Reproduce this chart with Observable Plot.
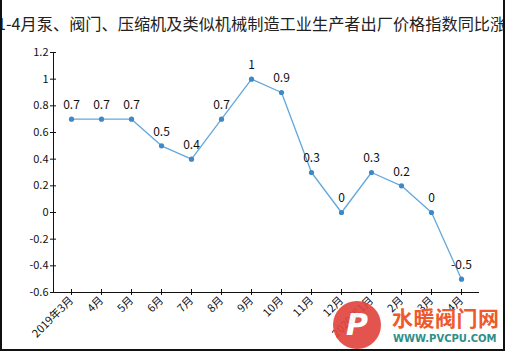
<!DOCTYPE html>
<html>
<head>
<meta charset="utf-8">
<script src="https://cdn.jsdelivr.net/npm/d3@7"></script>
<script src="https://cdn.jsdelivr.net/npm/@observablehq/plot@0.6"></script>
<style>
  html, body { margin: 0; padding: 0; background: #fff; }
  #wrap { position: relative; width: 508px; height: 355px; overflow: hidden; background: #fff;
          font-family: "Noto Sans CJK SC", "Noto Sans", sans-serif; }
  #chart { position: absolute; left: 0; top: 0; }
  #tbox { position: absolute; left: 0; top: 14px; width: 503px; height: 20px; overflow: hidden; }
  #title { position: absolute; left: -3px; top: 0; white-space: nowrap; font-size: 16.2px; line-height: 18px; color: #222; }
  #border { position: absolute; left: 0; top: -4px; width: 501px; height: 351px; border: 2px solid #111; pointer-events: none; }
  #wm1 { position: absolute; left: 392px; top: 305px; font-size: 21px; font-weight: bold; color: #ee5a2a; letter-spacing: 0.5px; line-height: 24px; white-space: nowrap; }
  #wm2 { position: absolute; left: 393px; top: 333px; font-size: 10px; font-weight: bold; color: #2e8f8a; font-family: "DejaVu Sans", sans-serif; line-height: 12px; white-space: nowrap; }
  #logo { position: absolute; left: 333px; top: 301px; width: 48px; height: 48px; border-radius: 50%; background: #e2463f; opacity: 0.92;
          color: #fff; font: italic bold 30px "DejaVu Sans", sans-serif; text-align: center; line-height: 48px; }
</style>
</head>
<body>
<div id="wrap">
  <div id="chart"></div>
  <div id="tbox"><div id="title">1-4月泵、阀门、压缩机及类似机械制造工业生产者出厂价格指数同比涨</div></div>
  <div id="logo">P</div>
  <div id="wm1">水暖阀门网</div>
  <div id="wm2">WWW.PVCPU.COM</div>
  <div id="border"></div>
</div>
<script>
const months = ["2019年3月","4月","5月","6月","7月","8月","9月","10月","11月","12月","2020年1月","2月","3月","4月"];
const values = [0.7, 0.7, 0.7, 0.5, 0.4, 0.7, 1, 0.9, 0.3, 0, 0.3, 0.2, 0, -0.5];
const yTicks = [-0.6, -0.4, -0.2, 0, 0.2, 0.4, 0.6, 0.8, 1, 1.2];

const data = values.map((v, i) => ({i, v}));
const fmt = d => String(+d.toFixed(1));
const idx = d3.range(months.length);

const chart = Plot.plot({
  width: 508,
  height: 355,
  marginLeft: 53,
  marginRight: 30,
  marginTop: 52,
  marginBottom: 63,
  x: {type: "point", domain: idx, padding: 0.5},
  y: {domain: [-0.6, 1.2]},
  style: {fontFamily: "'Noto Sans CJK SC', 'Noto Sans', sans-serif", fontSize: "11px", color: "#111", background: "transparent"},
  marks: [
    Plot.frame({anchor: "left", stroke: "#111"}),
    Plot.frame({anchor: "bottom", stroke: "#111"}),
    Plot.axisY({ticks: yTicks, tickSize: 6, dx: 3, tickFormat: () => "", label: null, stroke: "#111"}),
    Plot.axisY({ticks: yTicks, tickSize: 0, tickPadding: 5, tickFormat: fmt, label: null, fill: "#111"}),
    Plot.axisX({ticks: idx, tickSize: 6, dy: -3, tickFormat: () => "", label: null, stroke: "#111"}),
    Plot.axisX({ticks: idx, tickSize: 0, tickPadding: 6, tickRotate: -45, tickFormat: i => months[i], label: null, fill: "#111"}),
    Plot.line(data, {x: "i", y: "v", stroke: "#62a8dd", strokeWidth: 1.3}),
    Plot.dot(data, {x: "i", y: "v", r: 2.6, fill: "#3f87c5", stroke: "none"}),
    Plot.text(data, {x: "i", y: "v", text: d => fmt(d.v), dy: -14, fontSize: 12, fill: "#111"})
  ]
});
document.getElementById("chart").appendChild(chart);
</script>
</body>
</html>
